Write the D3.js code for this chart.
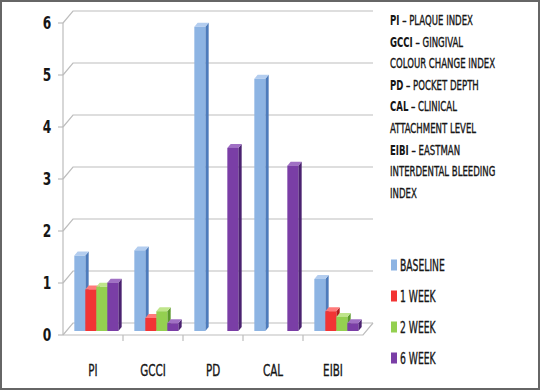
<!DOCTYPE html>
<html>
<head>
<meta charset="utf-8">
<script src="https://cdn.jsdelivr.net/npm/d3@7"></script>
<style>
  html, body { margin: 0; padding: 0; background: #fff; }
  svg { display: block; }
  text { font-family: "DejaVu Sans Condensed", "Liberation Sans", sans-serif; fill: #161616; stroke: #161616; stroke-width: 0.35px; }
</style>
</head>
<body>
<div id="chart"></div>
<script>
'use strict';

// ── Data ──
var categories = ['PI', 'GCCI', 'PD', 'CAL', 'EIBI'];
var seriesNames = ['BASELINE', '1 WEEK', '2 WEEK', '6 WEEK'];
var baseline = [1.45, 1.55, 5.85, 4.85, 1.0];
var week1 = [0.8, 0.25, 0, 0, 0.38];
var week2 = [0.85, 0.38, 0, 0, 0.27];
var week6 = [0.93, 0.15, 3.52, 3.18, 0.15];
var yTicks = [0, 1, 2, 3, 4, 5, 6];
var defAbbr = ['PI', 'GCCI', '', 'PD', 'CAL', '', 'EIBI', '', ''];
var defText = [' – PLAQUE INDEX', ' – GINGIVAL', 'COLOUR CHANGE INDEX', ' – POCKET DEPTH', ' – CLINICAL',
               'ATTACHMENT LEVEL', ' – EASTMAN', 'INTERDENTAL BLEEDING', 'INDEX'];

var seriesValues = [baseline, week1, week2, week6];

var W = 540, H = 390;
var svg = d3.select('#chart').append('svg').attr('width', W).attr('height', H);

svg.append('rect').attr('x', 1).attr('y', 1).attr('width', W - 2).attr('height', H - 2)
    .attr('fill', '#fff').attr('stroke', '#666').attr('stroke-width', 2);

// 3d geometry: floor depth offset
var DX = 10, DY = -12;
var gridColor = '#bdbdbd';

var x0 = d3.scaleBand().domain(categories).range([63, 363]);
var x1 = d3.scaleBand().domain(seriesNames).range([8, 52]);
var y = d3.scaleLinear().domain([0, 6]).range([335, 23]);

var colors = {
    'BASELINE': {front: '#8db4e3', side: '#4d7bbb', top: '#b3cdef'},
    '1 WEEK':   {front: '#f23434', side: '#b31b1b', top: '#ff7a7a'},
    '2 WEEK':   {front: '#94d050', side: '#5c9a2c', top: '#bfe58b'},
    '6 WEEK':   {front: '#7a3ea6', side: '#4b2270', top: '#a070c4'}
};

// squeeze text horizontally to mimic a narrow font
function place(x, yy, k) { return 'translate(' + x + ',' + yy + ') scale(' + k + ',1)'; }

var g = svg.append('g');

// ── Walls & gridlines ──
g.selectAll('.grid')
    .data(yTicks).enter()
    .append('polyline').attr('class', 'grid')
    .attr('points', function(d) {
        return 63 + ',' + y(d) + ' ' + (63 + DX) + ',' + (y(d) + DY) + ' ' + (363 + DX) + ',' + (y(d) + DY);
    })
    .attr('fill', 'none').attr('stroke', gridColor).attr('stroke-width', 1.2);

// floor front edge and right edge
g.append('polyline')
    .attr('points', 63 + ',' + y(0) + ' ' + 363 + ',' + y(0) + ' ' + (363 + DX) + ',' + (y(0) + DY))
    .attr('fill', 'none').attr('stroke', gridColor).attr('stroke-width', 1.2);

// front vertical axis
g.append('line').attr('x1', 63).attr('x2', 63).attr('y1', y(6)).attr('y2', y(0))
    .attr('stroke', gridColor).attr('stroke-width', 1.2);

g.selectAll('.ytick')
    .data(yTicks).enter()
    .append('line').attr('class', 'ytick')
    .attr('x1', 58).attr('x2', 63).attr('y1', function(d) { return y(d); }).attr('y2', function(d) { return y(d); })
    .attr('stroke', gridColor).attr('stroke-width', 1.2);

g.selectAll('.xtick')
    .data(categories.slice(1)).enter()
    .append('line').attr('class', 'xtick')
    .attr('x1', function(d) { return x0(d); }).attr('x2', function(d) { return x0(d); })
    .attr('y1', y(0)).attr('y2', y(0) + 6)
    .attr('stroke', gridColor).attr('stroke-width', 1.2);

// ── Bars ──
var bw = x1.bandwidth();
var fdx = DX / 3, fdy = DY / 3;   // bar front sits at 1/3 of floor depth
var bdx = DX / 3, bdy = DY / 3;   // bar depth

var bars = [];
categories.forEach(function(c, ci) {
    seriesNames.forEach(function(s, si) {
        var v = seriesValues[si][ci];
        if (v > 0) bars.push({cat: c, series: s, value: v});
    });
});

var bar = g.selectAll('.bar')
    .data(bars).enter()
    .append('g').attr('class', 'bar');

function bx(d) { return x0(d.cat) + x1(d.series) + fdx; }
function by0() { return y(0) + fdy; }
function by1(d) { return y(d.value) + fdy; }

bar.append('polygon')
    .attr('points', function(d) {
        var xr = bx(d) + bw;
        return xr + ',' + by1(d) + ' ' + (xr + bdx) + ',' + (by1(d) + bdy) + ' ' +
            (xr + bdx) + ',' + (by0() + bdy) + ' ' + xr + ',' + by0();
    })
    .attr('fill', function(d) { return colors[d.series].side; });

bar.append('polygon')
    .attr('points', function(d) {
        var xl = bx(d), xr = bx(d) + bw, yt = by1(d);
        return xl + ',' + yt + ' ' + xr + ',' + yt + ' ' + (xr + bdx) + ',' + (yt + bdy) + ' ' + (xl + bdx) + ',' + (yt + bdy);
    })
    .attr('fill', function(d) { return colors[d.series].top; });

bar.append('rect')
    .attr('x', bx).attr('y', by1)
    .attr('width', bw).attr('height', function(d) { return by0() - by1(d); })
    .attr('fill', function(d) { return colors[d.series].front; });

// ── Axis labels ──
g.selectAll('.ylab')
    .data(yTicks).enter()
    .append('text').attr('class', 'ylab')
    .attr('transform', function(d) { return place(47, y(d), 0.8); }).attr('dy', '0.36em')
    .attr('text-anchor', 'middle')
    .style('font-size', '17px').style('font-weight', 'bold').style('stroke-width', 0)
    .text(function(d) { return d; });

g.selectAll('.xlab')
    .data(categories).enter()
    .append('text').attr('class', 'xlab')
    .attr('transform', function(d) { return place(x0(d) + x0.bandwidth() / 2, 370, 0.72); }).attr('dy', '0.36em')
    .attr('text-anchor', 'middle')
    .style('font-size', '16px')
    .text(function(d) { return d; });

// ── Definitions ──
var defs = g.append('g').attr('transform', place(390, 0, 0.68));
defs.selectAll('.def')
    .data(defText).enter()
    .append('text').attr('class', 'def')
    .attr('x', 0).attr('y', function(d, i) { return 20 + i * 21.6; }).attr('dy', '0.36em')
    .style('font-size', '14px')
    .each(function(d, i) {
        var t = d3.select(this);
        if (defAbbr[i]) t.append('tspan').style('font-weight', 'bold').style('stroke-width', 0).text(defAbbr[i]);
        t.append('tspan').text(d);
    });

// ── Legend ──
var legend = g.selectAll('.legend')
    .data(seriesNames).enter()
    .append('g').attr('class', 'legend')
    .attr('transform', function(d, i) { return 'translate(391,' + (265 + i * 31) + ')'; });

legend.append('rect').attr('x', 0).attr('y', -5.5).attr('width', 6).attr('height', 11)
    .attr('fill', function(d) { return colors[d].front; });

legend.append('text').attr('transform', place(9, 0, 0.64)).attr('dy', '0.36em')
    .style('font-size', '16px')
    .text(function(d) { return d; });
</script>
</body>
</html>
